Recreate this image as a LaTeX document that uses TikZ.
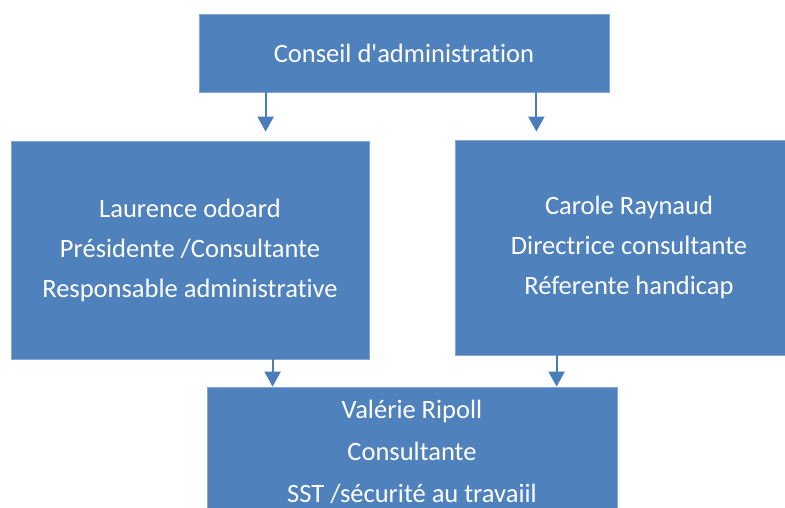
\documentclass[tikz,border=0pt]{standalone}
\usepackage{fontspec}
\setmainfont{Carlito}[Ligatures={NoCommon}]
\usetikzlibrary{arrows.meta,calc}
\definecolor{boxblue}{HTML}{4F81BD}
\definecolor{arrowblue}{HTML}{4A7EBB}
\begin{document}
\begin{tikzpicture}[x=1pt,y=-1pt,
  orgbox/.style={rectangle, fill=boxblue, draw=boxblue!70!white, line width=0.8pt,
    inner sep=0pt, anchor=center, text=white, align=center,
    font=\fontsize{26.5}{40}\selectfont},
  conn/.style={draw=arrowblue, line width=2pt, -{Triangle[width=16pt,length=15pt]}}]
\useasboundingbox (0,0) rectangle (785,508);
\clip (0,0) rectangle (785,508);
\node[orgbox, minimum width=410pt, minimum height=78pt] (top) at (404,53) {Conseil d\textquotesingle administration};
\node[orgbox, minimum width=358pt, minimum height=218pt] (left) at (190,250)
  {Laurence odoard\\Présidente /Consultante\\Responsable administrative};
\node[orgbox, minimum width=348pt, minimum height=215pt] (right) at (629,247.5)
  {Carole Raynaud\\Directrice consultante\\Réferente handicap};
\node[orgbox, minimum width=410pt, minimum height=130pt, font=\fontsize{26.5}{42}\selectfont] (bottom) at (412,452)
  {Valérie Ripoll\\Consultante\\SST /sécurité au travaiil};
\draw[conn, shorten >=9pt] ([xshift=67pt]top.south west) -- ([xshift=67pt]top.south west |- left.north);
\draw[conn, shorten >=8pt] ([xshift=-73pt]top.south east) -- ([xshift=-73pt]top.south east |- right.north);
\draw[conn] ([xshift=262pt]left.south west) -- ([xshift=262pt]left.south west |- bottom.north);
\draw[conn] ([xshift=102pt]right.south west) -- ([xshift=102pt]right.south west |- bottom.north);
\end{tikzpicture}
\end{document}
